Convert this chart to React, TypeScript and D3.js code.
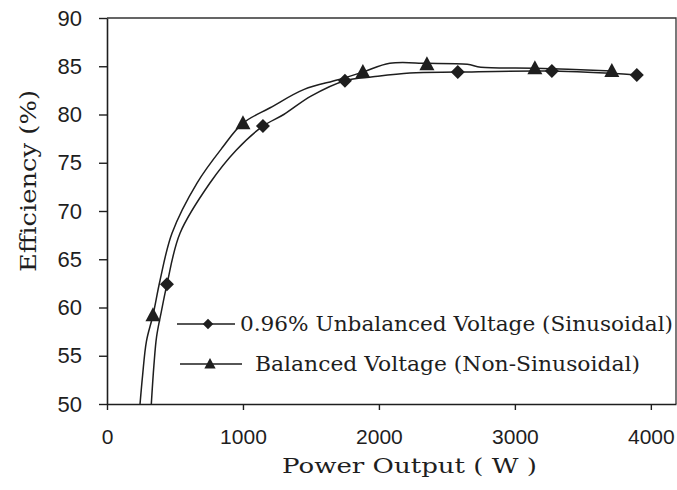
import React, { useEffect, useRef } from 'react';
import * as d3 from 'd3';

// measured points (markers)
const balancedMarkerX = [338, 1000, 1882, 2353, 3147, 3713];
const balancedMarkerY = [59.2, 79.1, 84.4, 85.2, 84.8, 84.5];
const unbalancedMarkerX = [441, 1147, 1750, 2580, 3272, 3897];
const unbalancedMarkerY = [62.4, 78.8, 83.5, 84.4, 84.5, 84.1];

// smoothed curves
const balancedCurveX = [243, 262, 290, 338, 390, 478, 662, 850, 1000, 1200, 1450, 1700, 1882, 2080, 2353, 2650, 2750, 3147, 3713];
const balancedCurveY = [50, 53, 56.5, 59.2, 62.8, 67.7, 72.9, 76.6, 79.1, 80.7, 82.6, 83.6, 84.4, 85.3, 85.3, 85.2, 84.9, 84.8, 84.5];
const unbalancedCurveX = [326, 345, 365, 400, 441, 537, 757, 950, 1147, 1300, 1500, 1750, 1956, 2228, 2580, 3272, 3897];
const unbalancedCurveY = [50, 54, 57, 59.6, 62.4, 67.7, 72.9, 76.3, 78.8, 80.0, 81.9, 83.5, 83.9, 84.3, 84.4, 84.5, 84.1];

const xTicks = [0, 1000, 2000, 3000, 4000];
const yTicks = [50, 55, 60, 65, 70, 75, 80, 85, 90];

const legendLabels = [
  '0.96% Unbalanced Voltage (Sinusoidal)',
  'Balanced Voltage (Non-Sinusoidal)',
];

const svgWidth = 677;
const svgHeight = 490;
const plot = { left: 107, right: 676, top: 18, bottom: 404 };
const ink = '#1e1e1e';

const diamond = 'M0,-7L7,0L0,7L-7,0Z';
const triangle = 'M0,-8L7.5,6L-7.5,6Z';

const App = () => {
  const svgRef = useRef<SVGSVGElement>(null);

  useEffect(() => {
    const svg = d3.select(svgRef.current);
    svg.selectAll('*').remove();

    const x = d3.scaleLinear().domain([0, 4185]).range([plot.left, plot.right]);
    const y = d3.scaleLinear().domain([50, 90]).range([plot.bottom, plot.top]);

    svg.append('rect').attr('width', svgWidth).attr('height', svgHeight).attr('fill', '#fff');

    // frame top / right
    svg.append('path')
      .attr('d', `M${plot.left},${plot.top}H${plot.right}V${plot.bottom}`)
      .attr('fill', 'none')
      .attr('stroke', '#333')
      .attr('stroke-width', 1.3);

    // y axis
    const yAxis = svg.append('g').attr('transform', `translate(${plot.left},0)`)
      .call(d3.axisLeft(y).tickValues(yTicks).tickSize(8).tickSizeOuter(0).tickPadding(17));
    yAxis.select('.domain').attr('stroke', ink).attr('stroke-width', 1.6);
    yAxis.selectAll('line').attr('stroke', ink).attr('stroke-width', 1.4);
    yAxis.selectAll('text')
      .attr('font-family', '"Liberation Sans", Arial, sans-serif')
      .attr('font-size', 22)
      .attr('fill', ink);

    // x axis
    const xAxis = svg.append('g').attr('transform', `translate(0,${plot.bottom})`)
      .call(d3.axisBottom(x).tickValues(xTicks).tickFormat(d3.format('d')).tickSize(6).tickSizeOuter(0).tickPadding(19));
    xAxis.select('.domain').attr('stroke', ink).attr('stroke-width', 1.6);
    xAxis.selectAll('line').attr('stroke', ink).attr('stroke-width', 1.4);
    xAxis.selectAll('text')
      .attr('font-family', '"Liberation Sans", Arial, sans-serif')
      .attr('font-size', 21)
      .attr('fill', ink);

    // curves
    const line = d3.line<[number, number]>()
      .x(d => x(d[0]))
      .y(d => y(d[1]))
      .curve(d3.curveCatmullRom.alpha(0.5));

    const curves = [
      balancedCurveX.map((v, i) => [v, balancedCurveY[i]] as [number, number]),
      unbalancedCurveX.map((v, i) => [v, unbalancedCurveY[i]] as [number, number]),
    ];
    svg.append('g').selectAll('path')
      .data(curves)
      .enter().append('path')
      .attr('d', d => line(d))
      .attr('fill', 'none')
      .attr('stroke', ink)
      .attr('stroke-width', 1.5);

    // markers
    svg.append('g').selectAll('path')
      .data(unbalancedMarkerX.map((v, i) => [v, unbalancedMarkerY[i]]))
      .enter().append('path')
      .attr('d', diamond)
      .attr('transform', d => `translate(${x(d[0])},${y(d[1])})`)
      .attr('fill', ink);

    svg.append('g').selectAll('path')
      .data(balancedMarkerX.map((v, i) => [v, balancedMarkerY[i]]))
      .enter().append('path')
      .attr('d', triangle)
      .attr('transform', d => `translate(${x(d[0])},${y(d[1])})`)
      .attr('fill', ink);

    // legend
    const legendRows = [
      { y: 324, x1: 177, x2: 235, mx: 208, mark: diamond, tx: 240, len: 433 },
      { y: 364, x1: 180, x2: 242, mx: 210, mark: triangle, tx: 255, len: 385 },
    ];
    const lg = svg.append('g').selectAll('g')
      .data(legendRows)
      .enter().append('g');
    lg.append('line')
      .attr('x1', d => d.x1).attr('x2', d => d.x2)
      .attr('y1', d => d.y).attr('y2', d => d.y)
      .attr('stroke', ink).attr('stroke-width', 1.5);
    lg.append('path')
      .attr('d', d => d.mark)
      .attr('transform', d => `translate(${d.mx},${d.y}) scale(0.75)`)
      .attr('fill', ink);
    lg.append('text')
      .attr('x', d => d.tx)
      .attr('y', d => d.y + 7)
      .attr('font-family', '"DejaVu Serif", serif')
      .attr('font-size', 21)
      .attr('textLength', d => d.len)
      .attr('lengthAdjust', 'spacingAndGlyphs')
      .attr('fill', ink)
      .text((d, i) => legendLabels[i]);

    // axis titles
    svg.append('text')
      .attr('x', 282).attr('y', 473)
      .attr('font-family', '"DejaVu Serif", serif')
      .attr('font-size', 20)
      .attr('textLength', 255)
      .attr('lengthAdjust', 'spacingAndGlyphs')
      .attr('fill', ink)
      .text('Power Output ( W )');

    svg.append('text')
      .attr('transform', 'translate(36,272) rotate(-90)')
      .attr('font-family', '"DejaVu Serif", serif')
      .attr('font-size', 23)
      .attr('textLength', 182)
      .attr('lengthAdjust', 'spacingAndGlyphs')
      .attr('fill', ink)
      .text('Efficiency (%)');
  }, []);

  return (
    <svg
      ref={svgRef}
      width={svgWidth}
      height={svgHeight}
      style={{ position: 'absolute', left: 0, top: 0 }}
    />
  );
};

export default App;
